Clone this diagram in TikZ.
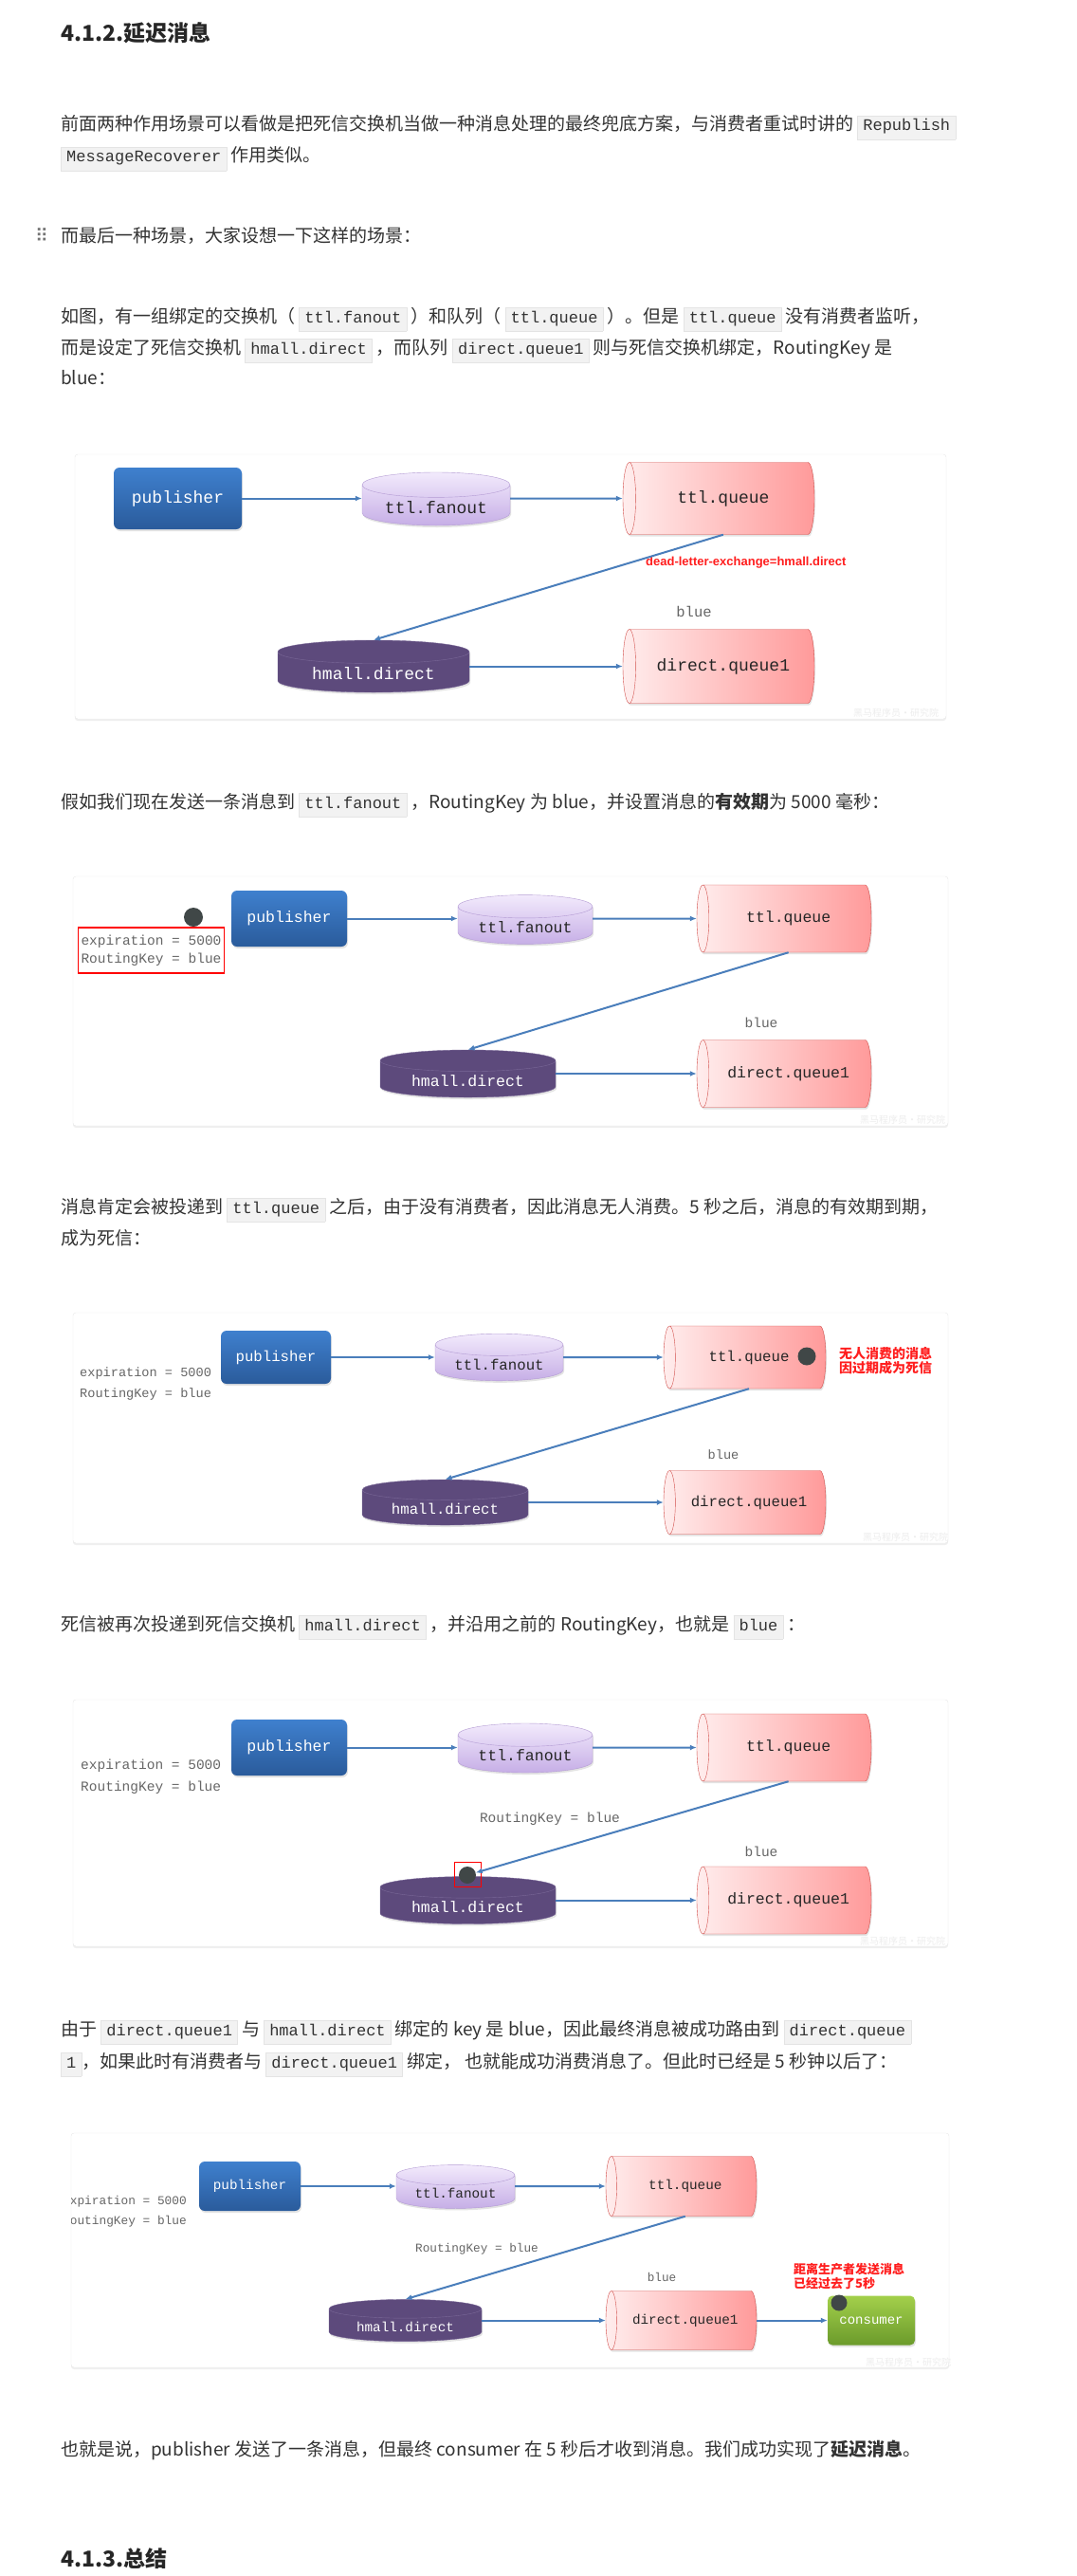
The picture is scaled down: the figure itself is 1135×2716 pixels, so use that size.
\documentclass[tikz,border=0pt]{standalone}
\usepackage{fontspec}
\setmainfont{Noto Sans CJK SC}
\setmonofont{Liberation Mono}
\newfontfamily\redsans{Liberation Sans}
\newfontfamily\handlefont{DejaVu Sans}
\usetikzlibrary{shapes.geometric,arrows.meta,shadows}

\definecolor{bodytext}{HTML}{333333}
\definecolor{codebg}{HTML}{F2F2F2}
\definecolor{codeframe}{HTML}{E4E4E4}
\definecolor{pubtop}{HTML}{3F80CE}
\definecolor{pubbot}{HTML}{2A5B9B}
\definecolor{fantop}{HTML}{F2EAFC}
\definecolor{fanbot}{HTML}{C6AEE6}
\definecolor{fanline}{HTML}{B39BD3}
\definecolor{hmallfill}{HTML}{5D4A7C}
\definecolor{hmallline}{HTML}{7A6898}
\definecolor{qleft}{HTML}{FFEDED}
\definecolor{qright}{HTML}{FF9A9A}
\definecolor{qline}{HTML}{D2504C}
\definecolor{contop}{HTML}{A3D04B}
\definecolor{conbot}{HTML}{6B9A2B}
\definecolor{flowblue}{HTML}{4A7EBB}
\definecolor{dotgray}{HTML}{404747}
\definecolor{notegray}{HTML}{666666}
\definecolor{alertred}{HTML}{FF1E1E}

\newcommand{\dfont}[1]{\ttfamily\fontsize{#1}{#1}\selectfont}
\newcommand{\code}[1]{{\setlength{\fboxsep}{3.5pt}\fcolorbox{codeframe}{codebg}{\hspace{2pt}\ttfamily\fontsize{17}{17}\selectfont\strut #1\hspace{2pt}}}}

\tikzset{
  txtline/.style={anchor=base west, inner sep=0pt, text=bodytext, font=\fontsize{19}{22}\selectfont},
  heading/.style={anchor=base west, inner sep=0pt, text=black!85, font=\bfseries\fontsize{23}{26}\selectfont},
  panel/.style={draw=black!9, fill=white, rounded corners=3pt, drop shadow={opacity=0.12, shadow xshift=0pt, shadow yshift=-2pt}},
  boxshadow/.style={drop shadow={opacity=0.22, shadow xshift=1pt, shadow yshift=-2pt}},
  pubbox/.style={rounded corners=6pt, top color=pubtop, bottom color=pubbot, text=white, font=\dfont{#1}, boxshadow},
  conbox/.style={rounded corners=5pt, top color=contop, bottom color=conbot, text=white, font=\dfont{#1}, boxshadow},
  fanoutcyl/.style={cylinder, shape border rotate=90, aspect=0.23, anchor=shape center, top color=fantop, bottom color=fanbot, draw=fanline, text=black!85, font=\dfont{#1}, boxshadow},
  hmallcyl/.style={cylinder, shape border rotate=90, aspect=0.18, anchor=shape center, fill=hmallfill, draw=hmallline, text=white, font=\dfont{#1}, boxshadow},
  queuecyl/.style={cylinder, shape border rotate=180, aspect=0.58, anchor=shape center, left color=qleft, right color=qright, draw=qline, text=black!85, font=\dfont{#1}, boxshadow},
  flow/.style={-{Latex[length=7pt,width=6pt]}, draw=flowblue, line width=2pt},
  msgdot/.style={circle, fill=dotgray, inner sep=0pt, minimum size=#1},
  graylabel/.style={text=notegray, font=\dfont{#1}, inner sep=0pt},
  redtext/.style={text=alertred, font=\bfseries\fontsize{#1}{15}\selectfont, align=left, inner sep=0pt, anchor=west},
  wmark/.style={text=black!7, font=\fontsize{10}{10}\selectfont, inner sep=0pt},
}

\begin{document}
\begin{tikzpicture}[x=1pt, y=-1pt]

\useasboundingbox[fill=white] (0,0) rectangle (1135,2716);

% text above the first picture
\node[heading] (titleA) at (64,44) {4.1.2.延迟消息};
\node[txtline] (lineA) at (64,138) {前面两种作用场景可以看做是把死信交换机当做一种消息处理的最终兜底方案，与消费者重试时讲的 \code{Republish}};
\node[txtline] (lineB) at (64,171) {\code{MessageRecoverer} 作用类似。};
\node[text=black!55, font=\handlefont\fontsize{19}{19}\selectfont, inner sep=0pt] (handle) at (44,248) {⠿};
\node[txtline] (lineC) at (64,255) {而最后一种场景，大家设想一下这样的场景：};
\node[txtline] (lineD) at (64,340) {如图，有一组绑定的交换机（ \code{ttl.fanout} ）和队列（ \code{ttl.queue} ）。但是 \code{ttl.queue} 没有消费者监听，};
\node[txtline] (lineE) at (64,373) {而是设定了死信交换机 \code{hmall.direct} ，而队列 \code{direct.queue1} 则与死信交换机绑定，RoutingKey 是};
\node[txtline] (lineF) at (64,405) {blue：};

% picture 1
\node[panel, minimum width=919, minimum height=279] (panelA) at (538.5,618.5) {};
\node[pubbox=18, minimum width=135, minimum height=65] (pubA) at (187.5,525.5) {publisher};
\node[fanoutcyl=18, minimum width=156, minimum height=56] (fanoutA) at (460,526) {ttl.fanout};
\node[queuecyl=18, minimum width=76, minimum height=202] (ttlqA) at (758,525.5) {ttl.queue};
\node[hmallcyl=18, minimum width=202, minimum height=55] (hmallA) at (394,702.5) {hmall.direct};
\node[queuecyl=18, minimum width=78, minimum height=202] (dqA) at (758,702.5) {direct.queue1};
\node[text=alertred, font=\redsans\bfseries\fontsize{13}{13}\selectfont, inner sep=0pt, anchor=west] (dlxA) at (681,593) {dead-letter-exchange=hmall.direct};
\node[graylabel=15.5] (blueA) at (732,645) {blue};
\draw[flow] (pubA.east) -- (pubA.east -| fanoutA.west);
\draw[flow] (pubA.east -| fanoutA.east) -- (ttlqA.west);
\draw[flow] (ttlqA.south) -- (hmallA.north);
\draw[flow] (dqA.west -| hmallA.east) -- (dqA.west);

% text above the second picture
\node[txtline] (lineG) at (64,852) {假如我们现在发送一条消息到 \code{ttl.fanout} ，RoutingKey 为 blue，并设置消息的\textbf{有效期}为 5000 毫秒：};

% picture 2
\node[panel, minimum width=923, minimum height=263] (panelB) at (538.5,1055.5) {};
\node[msgdot=20] (dotB) at (204,967) {};
\node[draw=red, line width=1.2pt, text=notegray, font=\dfont{14.5}, align=left, inner sep=3pt, minimum width=153, minimum height=48] (expB) at (159.5,1002) {expiration = 5000\\[5pt]RoutingKey = blue};
\node[pubbox=16.5, minimum width=122, minimum height=59] (pubB) at (305,968.5) {publisher};
\node[fanoutcyl=16.5, minimum width=142, minimum height=51] (fanoutB) at (554,969.5) {ttl.fanout};
\node[queuecyl=16.5, minimum width=71, minimum height=184] (ttlqB) at (827,968.5) {ttl.queue};
\node[hmallcyl=16.5, minimum width=185, minimum height=50] (hmallB) at (493.5,1132) {hmall.direct};
\node[queuecyl=16.5, minimum width=71, minimum height=184] (dqB) at (827,1132) {direct.queue1};
\node[graylabel=14.5] (blueB) at (803,1078) {blue};
\draw[flow] (pubB.east) -- (pubB.east -| fanoutB.west);
\draw[flow] (pubB.east -| fanoutB.east) -- (ttlqB.west);
\draw[flow] (ttlqB.south) -- (hmallB.north);
\draw[flow] (dqB.west -| hmallB.east) -- (dqB.west);

% text above the third picture
\node[txtline] (lineH) at (64,1279) {消息肯定会被投递到 \code{ttl.queue} 之后，由于没有消费者，因此消息无人消费。5 秒之后，消息的有效期到期，};
\node[txtline] (lineI) at (64,1312) {成为死信：};

% picture 3
\node[panel, minimum width=923, minimum height=243] (panelC) at (538.5,1505.5) {};
\node[graylabel=13.6, anchor=west] (expC) at (84,1448) {expiration = 5000};
\node[graylabel=13.6, anchor=west] (rkC) at (84,1470) {RoutingKey = blue};
\node[pubbox=15.7, minimum width=116, minimum height=56] (pubC) at (291,1431) {publisher};
\node[fanoutcyl=15.7, minimum width=135, minimum height=48] (fanoutC) at (526.5,1431) {ttl.fanout};
\node[queuecyl=15.7, minimum width=66, minimum height=171] (ttlqC) at (785.5,1431) {ttl.queue};
\node[msgdot=19] (dotC) at (851,1430) {};
\node[redtext=14] (deadC) at (885,1435) {无人消费的消息\\因过期成为死信};
\node[hmallcyl=15.7, minimum width=175, minimum height=48] (hmallC) at (469.5,1584) {hmall.direct};
\node[queuecyl=15.7, minimum width=67, minimum height=171] (dqC) at (785.5,1584) {direct.queue1};
\node[graylabel=13.6] (blueC) at (763,1534) {blue};
\draw[flow] (pubC.east) -- (pubC.east -| fanoutC.west);
\draw[flow] (pubC.east -| fanoutC.east) -- (ttlqC.west);
\draw[flow] (ttlqC.south) -- (hmallC.north);
\draw[flow] (dqC.west -| hmallC.east) -- (dqC.west);

% text above the fourth picture
\node[txtline] (lineJ) at (64,1719) {死信被再次投递到死信交换机 \code{hmall.direct} ，并沿用之前的 RoutingKey，也就是 \code{blue} ：};

% picture 4
\node[panel, minimum width=923, minimum height=260] (panelD) at (538.5,1922) {};
\node[graylabel=14.5, anchor=west] (expD) at (85,1862) {expiration = 5000};
\node[graylabel=14.5, anchor=west] (rkD) at (85,1885) {RoutingKey = blue};
\node[pubbox=16.5, minimum width=122, minimum height=59] (pubD) at (305,1842.5) {publisher};
\node[fanoutcyl=16.5, minimum width=142, minimum height=52] (fanoutD) at (554,1843) {ttl.fanout};
\node[queuecyl=16.5, minimum width=71, minimum height=184] (ttlqD) at (827,1842.5) {ttl.queue};
\node[hmallcyl=16.5, minimum width=185, minimum height=49] (hmallD) at (493.5,2003.5) {hmall.direct};
\node[queuecyl=16.5, minimum width=71, minimum height=184] (dqD) at (827,2003.5) {direct.queue1};
\node[graylabel=14.5] (routeD) at (580,1918) {RoutingKey = blue};
\node[graylabel=14.5] (blueD) at (803,1952) {blue};
\node[msgdot=18] (dotD) at (493,1977) {};
\node[draw=red, line width=1pt, minimum width=28, minimum height=26, inner sep=0pt] (markD) at (493,1976) {};
\draw[flow] (pubD.east) -- (pubD.east -| fanoutD.west);
\draw[flow] (pubD.east -| fanoutD.east) -- (ttlqD.west);
\draw[flow] (ttlqD.south) -- (dotD);
\draw[flow] (dqD.west -| hmallD.east) -- (dqD.west);

% text above the fifth picture
\node[txtline] (lineK) at (64,2146) {由于 \code{direct.queue1} 与 \code{hmall.direct} 绑定的 key 是 blue，因此最终消息被成功路由到 \code{direct.queue}};
\node[txtline] (lineL) at (64,2180) {\code{1}，如果此时有消费者与 \code{direct.queue1} 绑定， 也就能成功消费消息了。但此时已经是 5 秒钟以后了：};

% picture 5
\node[panel, minimum width=926, minimum height=247] (panelE) at (538,2372.5) {};
\begin{scope}
\clip (75,2249) rectangle (1001,2496);
\node[graylabel=12.8, anchor=west] (expE) at (66,2321) {expiration = 5000};
\node[graylabel=12.8, anchor=west] (rkE) at (66,2342) {RoutingKey = blue};
\end{scope}
\node[pubbox=14.3, minimum width=107, minimum height=52] (pubE) at (263.5,2305) {publisher};
\node[fanoutcyl=14.3, minimum width=125, minimum height=45] (fanoutE) at (480.5,2305.5) {ttl.fanout};
\node[queuecyl=14.3, minimum width=63, minimum height=159] (ttlqE) at (718.5,2305) {ttl.queue};
\node[hmallcyl=14.3, minimum width=161, minimum height=43] (hmallE) at (427.5,2446.5) {hmall.direct};
\node[queuecyl=14.3, minimum width=62, minimum height=159] (dqE) at (718.5,2446.5) {direct.queue1};
\node[conbox=14, minimum width=92, minimum height=52] (conE) at (919,2446.5) {consumer};
\node[msgdot=17] (dotE) at (885,2428) {};
\node[graylabel=12.7] (routeE) at (503,2371) {RoutingKey = blue};
\node[graylabel=12.7] (blueE) at (698,2401) {blue};
\node[redtext=13] (lateE) at (837,2400) {距离生产者发送消息\\已经过去了5秒};
\draw[flow] (pubE.east) -- (pubE.east -| fanoutE.west);
\draw[flow] (pubE.east -| fanoutE.east) -- (ttlqE.west);
\draw[flow] (ttlqE.south) -- (hmallE.north);
\draw[flow] (dqE.west -| hmallE.east) -- (dqE.west);
\draw[flow] (dqE.east) -- (conE);

\foreach \wx/\wy [count=\i] in {945/752, 952/1181, 955/1621, 952/2047, 958/2491}
  \node[wmark] (wm\i) at (\wx,\wy) {黑马程序员·研究院};

% closing text
\node[txtline] (lineM) at (64,2589) {也就是说，publisher 发送了一条消息，但最终 consumer 在 5 秒后才收到消息。我们成功实现了\textbf{延迟消息}。};
\node[heading] (titleB) at (64,2706) {4.1.3.总结};

\end{tikzpicture}
\end{document}
